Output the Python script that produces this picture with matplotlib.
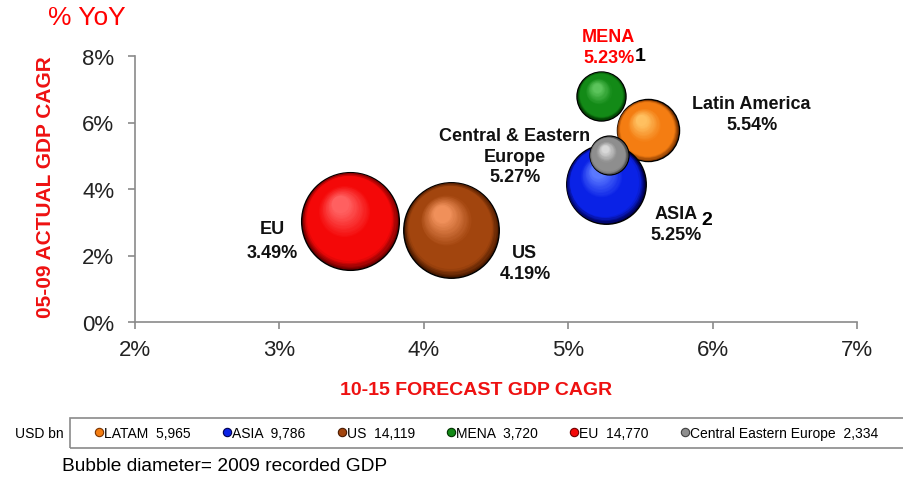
import numpy as np
import matplotlib.pyplot as plt
from matplotlib.lines import Line2D
from matplotlib.patches import Rectangle
from matplotlib.transforms import ScaledTranslation
from matplotlib.colors import to_rgb

plt.rcParams['font.family'] = ['Liberation Sans', 'DejaVu Sans']

# data
regions = ['LATAM', 'ASIA', 'US', 'MENA', 'EU', 'Central Eastern Europe']
forecast = [5.55, 5.26, 4.19, 5.23, 3.49, 5.28]   # 10-15 forecast GDP CAGR, %
actual = [5.76, 4.15, 2.78, 6.80, 3.05, 5.01]     # 05-09 actual GDP CAGR, %
gdp = [5965, 9786, 14119, 3720, 14770, 2334]      # 2009 GDP, USD bn
labels = ['Latin America\n5.54%', 'ASIA\n5.25%', 'US\n4.19%',
          'MENA\n5.23%', 'EU\n3.49%', 'Central & Eastern\nEurope\n5.27%']
notes = {'MENA': '1', 'ASIA': '2'}

# styling
base_col = ['#f47d12', '#0a22e6', '#a2450e', '#138a17', '#f40808', '#8e8e8e']
light_col = ['#ffc060', '#5a78ff', '#f0905a', '#5cc45c', '#ff6060', '#d8d8d8']
dark_col = ['#7a3300', '#000050', '#4a1a00', '#003300', '#700000', '#404040']
draw_order = [3, 0, 1, 5, 4, 2]
label_pos = [(6.27, 6.26), (5.75, 2.95), (4.70, 1.77),
             (5.28, 8.27), (2.95, 2.45), (4.63, 4.99)]
note_pos = {'MENA': (5.50, 8.03), 'ASIA': (5.96, 3.07)}
size_k = 0.335

fig = plt.figure(figsize=(9.04, 4.81), dpi=100)
ax = fig.add_axes([135/904, 158/481, 722/904, 266/481])


def mix(a, b, t):
    a, b = np.array(to_rgb(a)), np.array(to_rgb(b))
    return tuple(a + (b - a) * min(max(t, 0), 1))


def sphere(x, y, s, base, light, dark, z):
    r = np.sqrt(s) / 2
    ax.scatter([x], [y], s=s, color=dark, edgecolor='black', linewidth=1.0,
               zorder=z, clip_on=False)
    n = 32
    for i in range(1, n):
        t = i / (n - 1)
        rf = 1 - 0.82 * t
        if rf > 0.88:
            c = mix(dark, base, (1 - rf) / 0.12)
        elif rf > 0.55:
            c = to_rgb(base)
        else:
            c = mix(base, light, (0.55 - rf) / 0.37)
        dx, dy = -0.2 * r * t, 0.33 * r * t
        tr = ax.transData + ScaledTranslation(dx / 72, dy / 72, fig.dpi_scale_trans)
        ax.scatter([x], [y], s=(2 * r * rf) ** 2, color=c, linewidth=0,
                   transform=tr, zorder=z + i * 0.01, clip_on=False)


for k, i in enumerate(draw_order):
    sphere(forecast[i], actual[i], gdp[i] * size_k, base_col[i], light_col[i],
           dark_col[i], 3 + k)

for i, lab in enumerate(labels):
    col = 'red' if regions[i] == 'MENA' else '#111111'
    ls = 1.55 if regions[i] == 'EU' else 1.3
    ax.text(label_pos[i][0], label_pos[i][1], lab, ha='center', va='center',
            fontsize=13, fontweight='bold', color=col, linespacing=ls,
            zorder=20, clip_on=False)
for name, txt in notes.items():
    ax.text(note_pos[name][0], note_pos[name][1], txt, ha='center', va='center',
            fontsize=14, fontweight='bold', color='black', zorder=20)

ax.set_xlim(2, 7)
ax.set_ylim(0, 8)
ax.set_xticks(range(2, 8))
ax.set_xticklabels([f'{v}%' for v in range(2, 8)])
ax.set_yticks(range(0, 9, 2))
ax.set_yticklabels([f'{v}%' for v in range(0, 9, 2)])
for sp in ['top', 'right']:
    ax.spines[sp].set_visible(False)
for sp in ['left', 'bottom']:
    ax.spines[sp].set_color('#8a8a8a')
    ax.spines[sp].set_linewidth(1.2)
ax.tick_params(colors='#8a8a8a', labelcolor='#222222', labelsize=16,
               length=5, width=1.2)
ax.tick_params(axis='x', pad=7)
ax.tick_params(axis='y', pad=10)

ax.set_xlabel('10-15 FORECAST GDP CAGR', color='#ee1111', fontsize=14,
              fontweight='bold')
ax.xaxis.label.set_va('center')
ax.xaxis.set_label_coords((476 - 135) / 722, -(391 - 323) / 266)
ax.set_ylabel('05-09 ACTUAL GDP CAGR', color='#ee1111', fontsize=15,
              fontweight='bold')
ax.yaxis.label.set_va('center')
ax.yaxis.set_label_coords(-(135 - 45) / 722, 0.51)

fig.text(87/904, 1 - 18/481, '% YoY', color='red', fontsize=19,
         ha='center', va='center')
fig.text(15/904, 1 - 434/481, 'USD bn', fontsize=10, ha='left', va='center')
fig.text(62/904, 1 - 467/481, 'Bubble diameter= 2009 recorded GDP',
         fontsize=13.8, ha='left', va='center')

# legend box
fig.patches.append(Rectangle((70/904, 1 - 449/481), 850/904, 30/481,
                             transform=fig.transFigure, fill=False,
                             edgecolor='#8a8a8a', linewidth=1.2))
handles = [Line2D([], [], linestyle='none', marker='o', markersize=6,
                  markerfacecolor=base_col[i], markeredgecolor=dark_col[i],
                  markeredgewidth=0.8) for i in range(len(regions))]
leg_labels = [f'{regions[i]}  {gdp[i]:,}' for i in range(len(regions))]
leg = fig.legend(handles, leg_labels, loc='center left', ncol=6,
                 bbox_to_anchor=(96/904, 1 - 434/481),
                 fontsize=10, handlelength=0.5, handletextpad=0.1,
                 columnspacing=2.37, borderpad=0, frameon=False,
                 borderaxespad=0)

fig.savefig('out.png', dpi=100)
